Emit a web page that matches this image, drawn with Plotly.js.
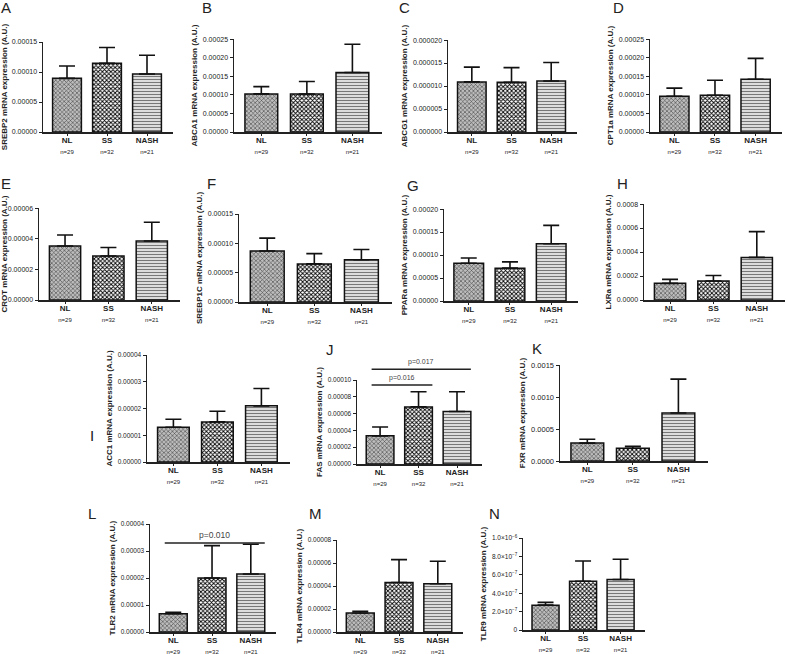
<!DOCTYPE html>
<html><head><meta charset="utf-8">
<script src="https://cdn.plot.ly/plotly-3.0.1.min.js"></script>
<style>html,body{margin:0;padding:0;background:#fff}#chart{width:788px;height:654px}</style>
</head><body><div id="chart"></div>
<script>
// ---- data ----
const panelLetters = ['A','B','C','D','E','F','G','H','I','J','K','L','M','N'];
const genes = ['SREBP2','ABCA1','ABCG1','CPT1a','CROT','SREBP1C','PPARa','LXRa','ACC1','FAS','FXR','TLR2','TLR4','TLR9'];
const groups = ['NL','SS','NASH'];
const groupN = ['n=29','n=32','n=21'];
// group means
const meanNL   = [8.95e-5, 1.025e-4, 1.09e-5, 9.6e-5, 3.52e-5, 8.7e-5, 8.2e-5, 1.39e-4, 1.3e-5, 3.35e-5, 2.8e-4, 6.8e-6, 1.65e-5, 2.7e-7];
const meanSS   = [1.145e-4, 1.02e-4, 1.08e-5, 9.9e-5, 2.87e-5, 6.5e-5, 7.15e-5, 1.58e-4, 1.5e-5, 6.8e-5, 2.0e-4, 2.0e-5, 4.3e-5, 5.3e-7];
const meanNASH = [9.67e-5, 1.6e-4, 1.11e-5, 1.42e-4, 3.85e-5, 7.2e-5, 1.245e-4, 3.55e-4, 2.1e-5, 6.25e-5, 7.5e-4, 2.15e-5, 4.2e-5, 5.5e-7];
// top of error bars (mean + SEM)
const upperNL   = [1.1e-4, 1.22e-4, 1.41e-5, 1.18e-4, 4.24e-5, 1.09e-4, 9.35e-5, 1.72e-4, 1.6e-5, 4.4e-5, 3.4e-4, 7.3e-6, 1.8e-5, 3.0e-7];
const upperSS   = [1.41e-4, 1.36e-4, 1.40e-5, 1.39e-4, 3.43e-5, 8.25e-5, 8.5e-5, 2.04e-4, 1.9e-5, 8.6e-5, 2.3e-4, 3.2e-5, 6.3e-5, 7.5e-7];
const upperNASH = [1.28e-4, 2.36e-4, 1.51e-5, 1.98e-4, 5.07e-5, 8.95e-5, 1.645e-4, 5.7e-4, 2.75e-5, 8.6e-5, 1.28e-3, 3.25e-5, 6.15e-5, 7.7e-7];
// significance annotations
const pPanels = [9, 9, 11];
const pLabels = ['p=0.016', 'p=0.017', 'p=0.010'];
const pLevels = [9.4e-5, 1.13e-4, 3.3e-5];
const pFrom = [0, 0, 0];
const pTo = [1, 2, 2];

// ---- axis settings ----
const yMax  = [1.5e-4, 2.5e-4, 2e-5, 2.5e-4, 6e-5, 1.5e-4, 2e-4, 8e-4, 4e-5, 1e-4, 1.5e-3, 4e-5, 8e-5, 1e-6];
const yStep = [5e-5, 5e-5, 5e-6, 5e-5, 2e-5, 5e-5, 5e-5, 2e-4, 1e-5, 2e-5, 5e-4, 1e-5, 2e-5, 2e-7];
const yFmt  = ['.5f','.5f','.6f','.5f','.5f','.5f','.5f','.4f','.5f','.5f','.4f','.5f','.5f', null];
const tlr9TickText = ['0','2.0×10<sup>−7</sup>','4.0×10<sup>−7</sup>','6.0×10<sup>−7</sup>','8.0×10<sup>−7</sup>','1.0×10<sup>−6</sup>'];

// panel geometry in pixels: [axis x, axis end x, top y, zero y]
const geom = [
  [43,173,42,132],[234,382,39,132],[448,577,40,132],[650,782,39,132],
  [39,180,208,300],[239,392,214,302],[444,578,209,301],[644,785,204,300],
  [147,290,355,462],[357,482,380,464],[560,708,365,461],
  [150,276,524,632],[337,463,540,632],[523,645,538,630]
];
const letterPos = [[6,8],[207,8],[404,8],[618,8],[6,183],[212,183],[413,185],[622,183],
  [92,435],[330,349],[537,348],[92,513],[315,513],[494,513]];
const tickSize = [7,7,7,7,7,7,7,7,6.5,6.5,7.5,6.5,6.5,6.5];

const W = 788, H = 654;
const XR = [-0.6, 2.65];
const FONT = 'Liberation Sans, Arial, sans-serif';
const patterns = [
  {shape:'x', fgcolor:'#444', bgcolor:'#bdbdbd', size:3, solidity:0.35},
  {shape:'x', fgcolor:'#000', bgcolor:'#fff', size:3, solidity:0.5},
  {shape:'-', fgcolor:'#777', bgcolor:'#f2f2f2', size:3, solidity:0.45}
];

const data = [];
const layout = {
  width: W, height: H, margin:{l:0,r:0,t:0,b:0},
  paper_bgcolor:'#fff', plot_bgcolor:'rgba(0,0,0,0)',
  showlegend:false, bargap:0.28,
  font:{family:FONT, color:'#222'},
  annotations:[], shapes:[]
};

for (let i = 0; i < 14; i++) {
  const xa = i === 0 ? 'x' : 'x' + (i + 1);
  const ya = i === 0 ? 'y' : 'y' + (i + 1);
  const means = [meanNL[i], meanSS[i], meanNASH[i]];
  const uppers = [upperNL[i], upperSS[i], upperNASH[i]];
  for (let g = 0; g < 3; g++) {
    data.push({
      type:'bar', x:[groups[g]], y:[means[g]], xaxis:xa, yaxis:ya, width:0.72,
      marker:{color:patterns[g].bgcolor, pattern:patterns[g], line:{color:'#111', width:1.5}},
      error_y:{type:'data', symmetric:false, array:[uppers[g]-means[g]], arrayminus:[0],
               color:'#111', thickness:1.6, width:8},
      hoverinfo:'skip'
    });
  }
  const [x0, x1, yt, yb] = geom[i];
  const ticktext = groups.map((gname, g) => '<b>' + gname + '</b><br><span style="font-size:6px">' + groupN[g] + '</span>');
  layout['xaxis' + (i === 0 ? '' : i + 1)] = {
    domain:[x0 / W, x1 / W], anchor: ya, type:'category', range:XR,
    showline:true, linecolor:'#222', linewidth:1.5, ticks:'outside', ticklen:2, tickcolor:'#222',
    ticklabelstandoff:-2,
    tickvals:groups, ticktext:ticktext, tickfont:{size:8, family:FONT, color:'#222'},
    showgrid:false, zeroline:false, fixedrange:true
  };
  const yaxis = {
    domain:[1 - yb / H, 1 - yt / H], anchor: xa, range:[0, yMax[i] * 1.0005],
    showline:true, linecolor:'#222', linewidth:1.5, ticks:'outside', ticklen:3, tickcolor:'#222',
    tickfont:{size:tickSize[i], family:FONT, color:'#222'}, showgrid:false, zeroline:false,
    title:{text: genes[i] + ' mRNA expression (A.U.)', font:{size:8, family:FONT, weight:'bold', color:'#222'}, standoff:4}
  };
  if (yFmt[i]) { yaxis.tick0 = 0; yaxis.dtick = yStep[i]; yaxis.tickformat = yFmt[i]; }
  else { yaxis.tickvals = tlr9TickText.map((t, k) => k * yStep[i]); yaxis.ticktext = tlr9TickText; }
  layout['yaxis' + (i === 0 ? '' : i + 1)] = yaxis;
  layout.annotations.push({xref:'paper', yref:'paper', x:letterPos[i][0] / W, y:1 - letterPos[i][1] / H,
    text:panelLetters[i], showarrow:false, font:{size:15, family:FONT, color:'#222'}, xanchor:'center', yanchor:'middle'});
}

// significance lines
for (let k = 0; k < pLabels.length; k++) {
  const i = pPanels[k];
  const xa = 'x' + (i + 1), ya = 'y' + (i + 1);
  const toDomX = v => (v - XR[0]) / (XR[1] - XR[0]);
  const yd = pLevels[k] / (yMax[i] * 1.0005);
  const xs = toDomX(pFrom[k] - 0.22), xe = toDomX(pTo[k] + 0.36);
  layout.shapes.push({type:'line', xref:xa + ' domain', yref:ya + ' domain', x0:xs, x1:xe, y0:yd, y1:yd,
    line:{color:'#222', width:1.5}});
  layout.annotations.push({xref:xa + ' domain', yref:ya + ' domain', x:(xs + xe) / 2, y:yd, yanchor:'bottom', xanchor:'center',
    text:pLabels[k], showarrow:false, font:{size: i === 11 ? 8.5 : 7, family:FONT, color:'#444'}, yshift:1});
}

Plotly.newPlot('chart', data, layout, {displayModeBar:false, staticPlot:true});
</script></body></html>
